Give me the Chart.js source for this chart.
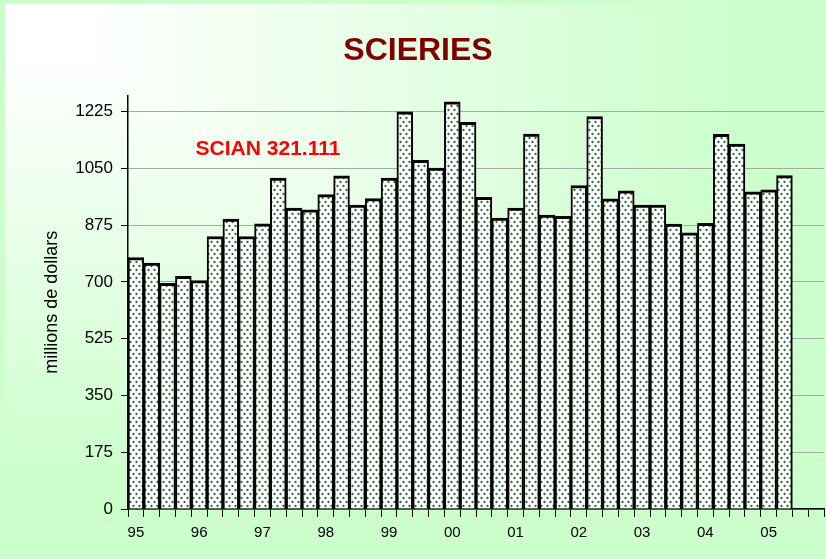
<!DOCTYPE html>
<html>
<head>
<meta charset="utf-8">
<script src="https://cdn.jsdelivr.net/npm/chart.js@4"></script>
<style>
  html, body { margin: 0; padding: 0; background: #ccffcc; }
  #wrap { width: 826px; height: 559px; }
</style>
</head>
<body>
<div id="wrap"><canvas id="myChart" width="826" height="559"></canvas></div>
<script>
// years on the axis, one label per 4 quarters
var years = ['95', '96', '97', '98', '99', '00', '01', '02', '03', '04', '05'];
// quarterly shipments, 1995 Q1 .. 2005 Q2 (millions de dollars)
var values = [
  775, 758, 696, 717,
  704, 840, 894, 840,
  879, 1020, 928, 922,
  969, 1027, 937, 957,
  1020, 1224, 1075, 1051,
  1255, 1192, 961, 897,
  928, 1156, 906, 902,
  997, 1210, 956, 981,
  937, 937, 878, 851,
  881, 1155, 1125, 978,
  984, 1028
];
var yTicks = [0, 175, 350, 525, 700, 875, 1050, 1225];

var labels = [];
years.forEach(function(y) {
    labels.push(y, '', '', '');
});

// dotted fill for the bars
function makeDots() {
    var c = document.createElement('canvas');
    c.width = 6; c.height = 8;
    var g = c.getContext('2d');
    g.fillStyle = '#ffffff';
    g.fillRect(0, 0, 6, 8);
    g.fillStyle = '#2a6a38';
    g.beginPath(); g.arc(1.5, 2, 1.15, 0, Math.PI * 2); g.fill();
    g.beginPath(); g.arc(4.5, 6, 1.15, 0, Math.PI * 2); g.fill();
    return g.createPattern(c, 'repeat');
}

var bgPlugin = {
    id: 'bg',
    beforeDraw: function(chart) {
        var ctx = chart.ctx, w = chart.width, h = chart.height;
        ctx.save();
        ctx.fillStyle = '#ccffcc';
        ctx.fillRect(0, 0, w, h);
        var gx = ctx.createLinearGradient(5, 0, 740, 0);
        gx.addColorStop(0, '#ffffff');
        gx.addColorStop(0.1, '#ffffff');
        gx.addColorStop(1, '#ccffcc');
        ctx.fillStyle = gx;
        ctx.fillRect(5, 4, w - 5, h - 4);
        var gy = ctx.createLinearGradient(0, 4, 0, 475);
        gy.addColorStop(0, '#ffffff');
        gy.addColorStop(0.1, '#ffffff');
        gy.addColorStop(1, '#ccffcc');
        ctx.globalCompositeOperation = 'darken';
        ctx.fillStyle = gy;
        ctx.fillRect(5, 4, w - 5, h - 4);
        ctx.restore();
    }
};

var notePlugin = {
    id: 'note',
    afterDatasetsDraw: function(chart) {
        var ctx = chart.ctx;
        var y = chart.scales.y.getPixelForValue(1110);
        ctx.save();
        ctx.fillStyle = '#ff0000';
        ctx.font = 'bold 21px "Liberation Sans", Arial, sans-serif';
        ctx.textAlign = 'center';
        ctx.textBaseline = 'middle';
        ctx.fillText('SCIAN 321.111', chart.chartArea.left + 140, y);
        ctx.restore();
    }
};

var ctx = document.getElementById('myChart').getContext('2d');
var myChart = new Chart(ctx, {
    type: 'bar',
    data: {
        labels: labels,
        datasets: [{
            data: values,
            backgroundColor: makeDots(),
            borderColor: '#000000',
            borderWidth: { top: 3, left: 2, right: 2, bottom: 0 },
            borderSkipped: false,
            barPercentage: 1,
            categoryPercentage: 1
        }]
    },
    plugins: [bgPlugin, notePlugin],
    options: {
        responsive: false,
        animation: false,
        layout: { padding: { left: 12, right: 2, top: 0, bottom: 0 } },
        plugins: {
            legend: { display: false },
            tooltip: { enabled: false },
            title: {
                display: true,
                text: 'SCIERIES',
                color: '#800000',
                font: { family: '"Liberation Sans", Arial, sans-serif', size: 32, weight: 'bold' },
                padding: { top: 32, bottom: 25 }
            }
        },
        scales: {
            x: {
                offset: true,
                grid: { drawOnChartArea: false, tickLength: 8, tickColor: '#000000' },
                border: { color: '#000000', width: 1.5 },
                ticks: {
                    autoSkip: false,
                    maxRotation: 0,
                    padding: 7,
                    color: '#000000',
                    font: { family: '"Liberation Sans", Arial, sans-serif', size: 15 }
                },
                afterFit: function(scale) { scale.height = 50; }
            },
            y: {
                min: 0,
                max: 1275,
                afterBuildTicks: function(scale) {
                    scale.ticks = yTicks.map(function(v) { return { value: v }; });
                },
                grid: { color: '#a8a8a8', tickLength: 7, tickColor: '#000000' },
                border: { color: '#000000', width: 1.5 },
                ticks: {
                    padding: 8,
                    color: '#000000',
                    font: { family: '"Liberation Sans", Arial, sans-serif', size: 17 },
                    callback: function(v) { return String(v); }
                },
                title: {
                    display: true,
                    text: 'millions de dollars',
                    color: '#000000',
                    font: { family: '"Liberation Sans", Arial, sans-serif', size: 18 },
                    padding: { top: 29, bottom: 0 }
                },
                afterFit: function(scale) { scale.width = 116; }
            }
        }
    }
});
</script>
</body>
</html>
